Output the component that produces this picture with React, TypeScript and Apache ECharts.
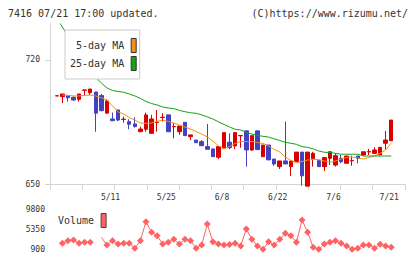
import React, { useEffect, useRef } from "react";
import * as echarts from "echarts";

const dates = [
  "4/21", "4/22", "4/23", "4/24", "4/27", "4/28", "4/30", "5/1", "5/7", "5/8",
  "5/11", "5/12", "5/13", "5/14", "5/15", "5/18", "5/19", "5/20", "5/21", "5/22",
  "5/25", "5/26", "5/27", "5/28", "5/29", "6/1", "6/2", "6/3", "6/4", "6/5",
  "6/8", "6/9", "6/10", "6/11", "6/12", "6/15", "6/16", "6/17", "6/18", "6/19",
  "6/22", "6/23", "6/24", "6/25", "6/26", "6/29", "6/30", "7/1", "7/2", "7/3",
  "7/6", "7/7", "7/8", "7/9", "7/10", "7/13", "7/14", "7/15", "7/16", "7/17",
  "7/21",
];

const dateLabels = ["5/11", "5/25", "6/8", "6/22", "7/6", "7/21"];

// [open, close, low, high]
const ohlc = [
  [699.7, 699.8, 699.7, 699.8], [699.3, 700.8, 695.6, 700.8], [699.9, 698.7, 696.5, 699.9],
  [698.9, 697.4, 697.0, 699.5], [697.8, 700.8, 696.5, 700.8], [702.9, 703.1, 699.9, 703.1],
  [701.5, 703.6, 700.2, 703.6], [701.9, 690.0, 679.5, 701.9], [699.9, 691.4, 691.0, 700.8],
  [690.0, 696.9, 690.0, 697.8], [686.7, 685.7, 685.7, 690.3], [691.8, 686.1, 685.5, 691.8],
  [686.4, 686.6, 684.6, 688.0], [685.2, 683.7, 680.9, 686.5], [683.9, 682.4, 681.8, 687.6],
  [679.5, 681.0, 679.5, 682.4], [680.9, 689.0, 679.5, 690.3], [678.6, 686.7, 678.6, 689.0],
  [684.7, 684.9, 679.5, 691.8], [687.5, 687.7, 685.2, 690.0], [689.0, 679.5, 679.5, 689.0],
  [682.3, 682.5, 675.8, 684.3], [679.5, 682.7, 677.7, 682.7], [684.8, 677.3, 677.3, 684.8],
  [676.7, 677.7, 674.8, 677.7], [674.8, 673.3, 673.3, 674.8], [673.9, 671.6, 671.6, 674.8],
  [671.1, 669.6, 669.6, 683.9], [669.8, 665.4, 665.4, 669.8], [665.1, 671.1, 664.1, 671.1],
  [670.2, 679.0, 670.2, 679.0], [673.6, 670.5, 669.6, 678.6], [671.5, 679.0, 669.6, 679.0],
  [677.2, 677.4, 670.5, 677.4], [680.0, 669.2, 659.8, 680.0], [669.2, 677.3, 668.6, 677.3],
  [680.0, 669.4, 669.4, 680.0], [665.4, 672.0, 665.4, 672.0], [672.0, 663.6, 663.6, 672.0],
  [664.1, 661.3, 660.3, 664.1], [659.8, 663.0, 658.5, 663.0], [663.0, 661.3, 661.3, 685.2],
  [659.8, 663.0, 654.6, 663.0], [662.6, 668.0, 662.6, 668.0], [668.0, 654.6, 649.0, 668.0],
  [648.8, 668.0, 648.8, 668.0], [664.4, 667.3, 659.8, 668.2], [663.2, 659.8, 659.8, 663.2],
  [659.8, 664.9, 657.3, 664.9], [664.5, 668.2, 660.7, 668.2], [660.7, 666.0, 659.8, 667.3],
  [664.5, 662.6, 661.7, 666.4], [661.7, 665.8, 661.7, 665.8], [663.1, 663.3, 660.3, 666.0],
  [665.8, 664.5, 661.7, 665.8], [666.4, 668.2, 666.0, 668.2], [668.1, 668.3, 666.4, 669.8],
  [667.3, 669.2, 667.3, 670.7], [666.4, 670.7, 666.4, 670.7], [673.0, 674.8, 669.6, 679.9],
  [674.4, 686.1, 674.4, 686.1],
];

const ma5 = [
  null, 700.2, 700.0, 699.7, 699.7, 700.0, 700.2, 699.7, 698.7, 697.4,
  694.0, 690.6, 689.5, 687.5, 686.1, 684.4, 684.2, 684.4, 685.3, 686.1,
  685.3, 684.4, 683.3, 682.2, 681.0, 679.6, 678.2, 676.5, 674.3, 671.5,
  670.0, 671.2, 672.9, 674.0, 674.0, 674.0, 673.4, 672.9, 671.5, 669.5,
  668.1, 665.2, 663.3, 662.1, 662.7, 663.5, 663.9, 663.8, 663.0, 662.3,
  663.0, 664.1, 665.0, 665.2, 664.7, 664.1, 665.0, 665.8, 667.3, 669.2,
  673.1,
];

const ma25 = [
  743.7, 738.6, 733.5, 729.0, 724.5, 720.0, 715.5, 710.1, 707.0, 704.2,
  702.8, 702.2, 701.8, 700.8, 699.7, 698.3, 696.6, 695.4, 694.6, 693.5,
  692.9, 692.6, 691.5, 690.8, 690.2, 689.9, 689.0, 687.9, 686.7, 685.1,
  683.6, 682.2, 680.9, 680.5, 679.1, 678.2, 677.5, 676.9, 676.5, 675.5,
  674.6, 673.5, 673.0, 672.4, 671.1, 670.7, 669.8, 668.6, 667.9, 667.8,
  667.3, 666.8, 666.8, 666.8, 666.8, 665.8, 665.8, 665.8, 665.8, 665.8,
  665.8,
];

const volume = [
  null, 2180, 2760, 2920, 2180, 2400, 2400, null, 3520, 1800,
  2760, 2020, 2180, 2180, 1060, 2760, 7020, 4640, 3880, 2020,
  2400, 3070, 2020, 3070, 2760, 1060, 1800, 6500, 2540, 2020,
  1800, 1900, 2180, 1600, 5380, 3070, 1570, 830, 2540, 1800,
  3070, 4420, 3880, 2400, 7400, 4640, 1280, 830, 2020, 2400,
  2760, 2180, 1570, 830, 1060, 1800, 1800, 1060, 1950, 1570,
  1280,
];
const volumeNoMarker = [8];

const priceTicks = [650, 720];
const volumeTicks = [900, 5350, 9800];

const MONO = '"DejaVu Sans Mono", monospace';
const UP = "#d90000";
const DOWN = "#4242c2";
const ORANGE = "#f39217";
const GREEN = "#16a316";
const VOL = "#ff6262";
const AXIS = "#d4d4d4";
const TXT = "#333333";

export default function App() {
  const ref = useRef<HTMLDivElement>(null);
  useEffect(() => {
    const chart = echarts.init(ref.current!, null, { renderer: "svg" });
    const option: any = {
      animation: false,
      backgroundColor: "#ffffff",
      textStyle: { fontFamily: MONO },
      graphic: [
        {
          type: "text",
          x: 8,
          y: 13,
          style: { text: "7416 07/21 17:00 updated.", font: `10px ${MONO}`, fill: TXT, verticalAlign: "middle" },
        },
        {
          type: "text",
          x: 408,
          y: 13,
          style: { text: "(C)https://www.rizumu.net/", font: `10px ${MONO}`, fill: TXT, align: "right", verticalAlign: "middle" },
        },
      ],
      legend: [
        {
          data: ["5-day MA", "25-day MA"],
          orient: "vertical",
          left: 65,
          top: 30,
          align: "right",
          padding: [8, 3, 8, 5],
          itemGap: 3,
          itemWidth: 5,
          itemHeight: 14,
          backgroundColor: "#ffffff",
          borderColor: "#cccccc",
          borderWidth: 1,
          icon: "rect",
          itemStyle: { borderColor: "#333333", borderWidth: 1 },
          textStyle: { fontFamily: MONO, fontSize: 10, color: TXT, padding: [0, 2, 0, 0] },
          selectedMode: false,
        },
        {
          data: ["Volume"],
          left: 58,
          top: 213,
          align: "right",
          padding: 0,
          itemWidth: 5,
          itemHeight: 14,
          icon: "rect",
          itemStyle: { borderColor: "#444444", borderWidth: 1 },
          textStyle: { fontFamily: MONO, fontSize: 10, color: TXT, padding: [0, 2, 0, 0] },
          selectedMode: false,
        },
      ],
      grid: [
        { left: 54, right: 26, top: 24, height: 160 },
        { left: 50, right: 15, top: 24, height: 160 },
        { left: 54, right: 26, top: 209.3, height: 39.7 },
      ],
      xAxis: [
        {
          type: "category",
          gridIndex: 0,
          data: dates,
          axisLine: { show: false },
          axisTick: { show: false },
          splitLine: { show: false },
          axisLabel: {
            interval: (i: number) => dateLabels.includes(dates[i]),
            fontSize: 8,
            fontFamily: MONO,
            color: TXT,
            margin: 9,
            padding: [0, 4, 0, 0],
          },
        },
        {
          type: "value",
          gridIndex: 1,
          min: 0,
          max: 11,
          interval: 1,
          axisLine: { show: true, lineStyle: { color: AXIS, width: 1 } },
          axisTick: { show: true, length: 6, lineStyle: { color: AXIS } },
          axisLabel: { show: false },
          splitLine: { show: false },
        },
        {
          type: "category",
          gridIndex: 2,
          data: dates,
          show: false,
        },
      ],
      yAxis: [
        { type: "value", gridIndex: 0, min: 650, max: 740.3, show: false, splitLine: { show: false } },
        {
          type: "value",
          gridIndex: 1,
          min: 650,
          max: 740.3,
          axisLine: { show: true, lineStyle: { color: AXIS, width: 1 } },
          axisTick: { show: true, length: 5, customValues: priceTicks, lineStyle: { color: AXIS } },
          axisLabel: { customValues: priceTicks, fontSize: 8, fontFamily: MONO, color: TXT, margin: 10 },
          splitLine: { show: false },
        },
        {
          type: "value",
          gridIndex: 2,
          min: 900,
          max: 9800,
          axisLine: { show: false },
          axisTick: { show: false },
          axisLabel: {
            customValues: volumeTicks,
            formatter: (v: number) => String(v),
            fontSize: 8,
            fontFamily: MONO,
            color: TXT,
            margin: 9,
          },
          splitLine: { show: false },
        },
      ],
      series: [
        {
          type: "candlestick",
          name: "Price",
          xAxisIndex: 0,
          yAxisIndex: 0,
          data: ohlc,
          barWidth: 4,
          clip: false,
          itemStyle: { color: UP, color0: DOWN, borderColor: UP, borderColor0: DOWN, borderWidth: 1 },
        },
        {
          type: "line",
          name: "5-day MA",
          xAxisIndex: 0,
          yAxisIndex: 0,
          data: ma5,
          symbol: "none",
          color: ORANGE,
          itemStyle: { color: ORANGE },
          lineStyle: { color: ORANGE, width: 1 },
        },
        {
          type: "line",
          name: "25-day MA",
          xAxisIndex: 0,
          yAxisIndex: 0,
          data: ma25,
          symbol: "none",
          color: GREEN,
          itemStyle: { color: GREEN },
          lineStyle: { color: GREEN, width: 1 },
        },
        {
          type: "line",
          name: "Volume",
          xAxisIndex: 2,
          yAxisIndex: 2,
          data: volume.map((v, i) => (volumeNoMarker.includes(i) ? { value: v, symbol: "none" } : v)),
          symbol: "diamond",
          symbolSize: 7,
          showSymbol: true,
          showAllSymbol: true,
          connectNulls: false,
          clip: false,
          color: VOL,
          itemStyle: { color: VOL },
          lineStyle: { color: VOL, width: 1 },
        },
      ],
    };
    chart.setOption(option);
    return () => chart.dispose();
  }, []);
  return (
    <div
      ref={ref}
      style={{ position: "fixed", left: 0, top: 0, width: 420, height: 259, background: "#fff" }}
    />
  );
}
